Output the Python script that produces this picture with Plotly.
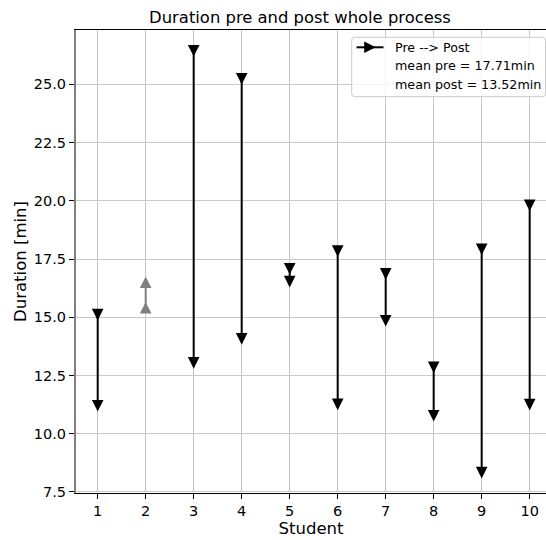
import plotly.graph_objects as go

# Per-student durations (minutes) before and after the process change
students = [1, 2, 3, 4, 5, 6, 7, 8, 9, 10]
pre = [15.11, 15.41, 26.44, 25.24, 17.08, 17.84, 16.86, 12.85, 17.92, 19.80]
post = [11.20, 16.50, 13.04, 14.07, 16.53, 11.26, 14.85, 10.77, 8.33, 11.25]

legend_labels = ["Pre --> Post", "mean pre = 17.71min", "mean post = 13.52min"]

x_ticks = students
y_ticks = [7.5, 10.0, 12.5, 15.0, 17.5, 20.0, 22.5, 25.0]

FONT = "DejaVu Sans"
W, H = 546, 540
ML, MR, MT, MB = 76, 0, 30, 47
PW, PH = W - ML - MR, H - MT - MB

# Triangle outlines in pixels (positive y points up), half-size S
S = 5.8
TRI_DOWN = f"M{-S},{S} L{S},{S} L0,{-S} Z"
TRI_UP = f"M{-S},{-S} L{S},{-S} L0,{S} Z"
TRI_RIGHT = f"M{-S},{S} L{-S},{-S} L{S},0 Z"

fig = go.Figure()
shapes = []

down_idx = [i for i in range(len(students)) if post[i] < pre[i]]
up_idx = [i for i in range(len(students)) if post[i] >= pre[i]]

for idx, color, tri in ((down_idx, "black", TRI_DOWN),
                        (up_idx, "#808080", TRI_UP)):
    xs, ys = [], []
    for i in idx:
        xs += [students[i], students[i], None]
        ys += [pre[i], post[i], None]
    fig.add_trace(go.Scatter(x=xs, y=ys, mode="lines",
                             line=dict(color=color, width=2),
                             showlegend=False, hoverinfo="skip"))
    for i in idx:
        for v in (pre[i], post[i]):
            shapes.append(dict(type="path", xref="x", yref="y",
                               xsizemode="pixel", ysizemode="pixel",
                               xanchor=students[i], yanchor=v, path=tri,
                               fillcolor=color, line=dict(width=0),
                               layer="above"))


def px_to_paper(px, py):
    return (px - ML) / PW, (MT + PH - py) / PH


# Legend box (rounded, semi-transparent white)
bx, by, bw, bh, r = 351.7, 37.3, 193.8, 59.4, 3
ax, ay = px_to_paper(bx, by)
box = (f"M{r},0 H{bw - r} Q{bw},0 {bw},{-r} V{-(bh - r)} Q{bw},{-bh} {bw - r},{-bh} "
       f"H{r} Q0,{-bh} 0,{-(bh - r)} V{-r} Q0,0 {r},0 Z")
shapes.append(dict(type="path", xref="paper", yref="paper",
                   xsizemode="pixel", ysizemode="pixel", xanchor=ax, yanchor=ay,
                   path=box, fillcolor="rgba(255,255,255,0.8)",
                   line=dict(color="#cccccc", width=1), layer="above"))

# Legend handle: line with right-pointing triangle
row_y = [47.3, 65.7, 84.0]
hx, hy = px_to_paper(370, row_y[0])
shapes.append(dict(type="path", xref="paper", yref="paper",
                   xsizemode="pixel", ysizemode="pixel", xanchor=hx, yanchor=hy,
                   path="M-13.5,0 L13.5,0", line=dict(color="black", width=2),
                   layer="above"))
shapes.append(dict(type="path", xref="paper", yref="paper",
                   xsizemode="pixel", ysizemode="pixel", xanchor=hx, yanchor=hy,
                   path=TRI_RIGHT, fillcolor="black", line=dict(width=0),
                   layer="above"))

annotations = []
for label, yy in zip(legend_labels, row_y):
    tx, ty = px_to_paper(393.3, yy)
    annotations.append(dict(text=label, xref="paper", yref="paper", x=tx, y=ty,
                            xanchor="left", yanchor="middle", showarrow=False,
                            font=dict(family=FONT, size=12.7, color="black")))

fig.update_layout(
    width=W, height=H,
    margin=dict(l=ML, r=MR, t=MT, b=MB),
    paper_bgcolor="white", plot_bgcolor="white",
    font=dict(family=FONT, color="black", size=14),
    title=dict(text="Duration pre and post whole process",
               font=dict(family=FONT, size=16.4, color="black"),
               x=300 / W, xanchor="center", xref="container",
               y=1 - 17 / H, yanchor="middle", yref="container"),
    shapes=shapes, annotations=annotations,
    showlegend=False,
)

fig.update_xaxes(
    range=[0.548, 10.34], tickvals=x_ticks, ticktext=[str(v) for v in x_ticks],
    showgrid=True, gridcolor="#c8c8c8", gridwidth=1, zeroline=False,
    showline=True, linecolor="black", linewidth=1, mirror=True,
    ticks="outside", ticklen=5, tickcolor="black", tickwidth=1,
    tickfont=dict(family=FONT, size=14.5, color="black"),
    title=dict(text="Student", font=dict(family=FONT, size=16.5, color="black"),
               standoff=4),
)
fig.update_yaxes(
    range=[7.455, 27.33], tickvals=y_ticks, ticktext=[f"{v:.1f}" for v in y_ticks],
    showgrid=True, gridcolor="#c8c8c8", gridwidth=1, zeroline=False,
    showline=True, linecolor="#808080", linewidth=2, mirror=False,
    ticks="outside", ticklen=5, tickcolor="black", tickwidth=1,
    tickfont=dict(family=FONT, size=14.5, color="black"),
    title=dict(text="Duration [min]", font=dict(family=FONT, size=16.5, color="black"),
               standoff=3),
)

fig.write_html("out.html")
